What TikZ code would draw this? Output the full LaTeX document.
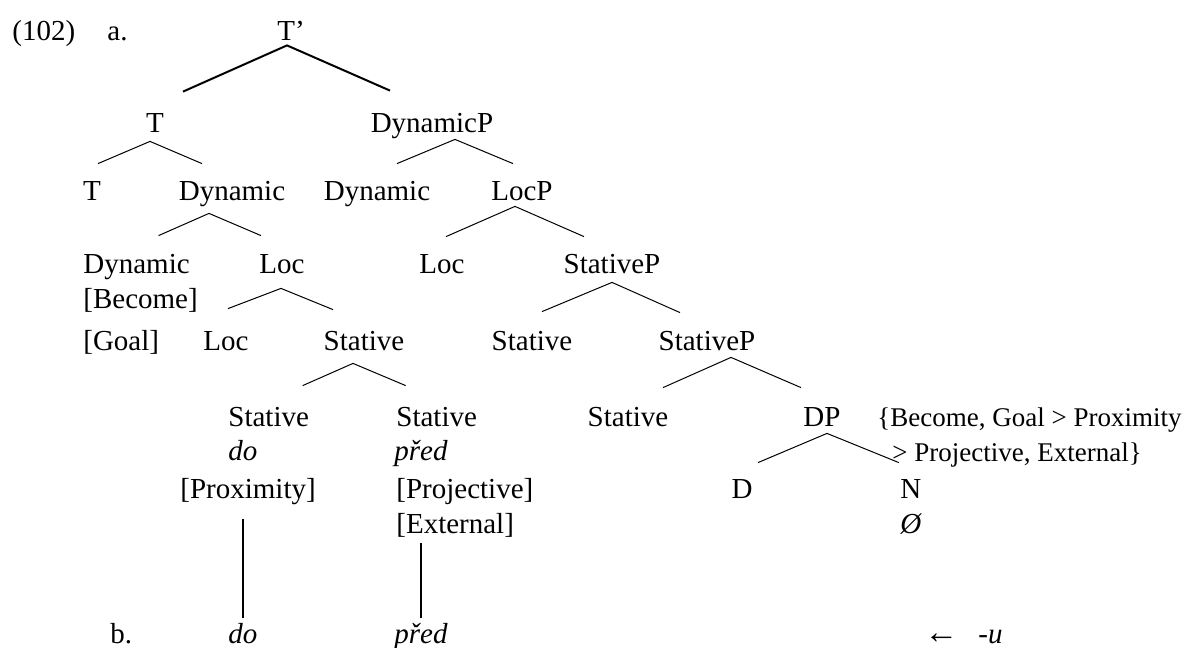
\documentclass[tikz,border=0pt]{standalone}
\usepackage{fontspec}
\setmainfont{Liberation Serif}
\usetikzlibrary{calc}
\begin{document}
\begin{tikzpicture}[x=0.5pt, y=-0.5pt, font=\fontsize{14.5}{17.5}\selectfont,
    lab/.style={inner sep=0pt, text height=10pt, text depth=0pt, anchor=base},
    labl/.style={lab, anchor=base west},
    roof/.style={line width=0.5pt},
    link/.style={line width=0.6pt}]
  \useasboundingbox (0,0) rectangle (1185,648);
  \foreach \n/\x/\y/\t in {Tbar/291/40/T’, T1/155/132/T, DynP/432/132/DynamicP,
      T2/92/200/T, Dyn2/232/200/Dynamic, Dyn3/377/200/Dynamic, LocP/522/200/LocP,
      Loc3/282/273/Loc, Loc4/442/273/Loc, StP3/612/273/StativeP,
      Loc5/226/350/Loc, St4a/364/350/Stative, St4b/532/350/Stative, StP4/707/350/StativeP,
      St5c/628/426/Stative, DP/822/426/DP, D/742/498/D}
    \node[lab] (\n) at (\x,\y) {\t};
  \foreach \n/\x/\y/\t in {ex/12/40/(102), a/107/40/a.,
      DynB/83/273/Dynamic, become/83/308/{[Become]}, goal/83/350/{[Goal]},
      St5a/228/426/Stative, dot/228/460/\textit{do}, prox/180/498/{[Proximity]},
      St5b/396/426/Stative, predt/394/460/\textit{před}, proj/396/498/{[Projective]},
      ext/396/533/{[External]}, N/900/498/N, null/900/533/\textit{Ø},
      b/110/643/b., dob/228/643/\textit{do}, predb/394/643/\textit{před},
      suf/978/643/\textit{-u}}
    \node[labl] (\n) at (\x,\y) {\t};
  \node[inner sep=0pt, anchor=base west, font=\fontsize{17}{17}\selectfont] (arr) at (924,643) {←};
  \node[labl, font=\fontsize{13.5}{16}\selectfont] (note1) at (877,426) {\{Become, Goal > Proximity};
  \node[labl, font=\fontsize{13.5}{16}\selectfont] (note2) at (892,461) {> Projective, External\}};
  \draw[roof, line width=1pt] ($(T1.north)+(28,-20)$) -- ($(Tbar.south)+(-4,5)$) -- ($(DynP.north)+(-42,-21)$);
  \foreach \p/\ax/\ay/\l/\lx/\ly/\r/\rx/\ry in {T1/-5/9/T2/6/-16/Dyn2/-30/-16,
      DynP/23/7/Dyn3/20/-16/LocP/-9/-16, Dyn2/-23/13/DynB/22/-17/Loc3/-21/-17,
      LocP/-7/6/Loc4/4/-16/StP3/-28/-16, Loc3/-1/15/Loc5/2/-21/St4a/-31/-20,
      StP3/0/9/St4b/10/-18/StP4/-27/-17, St4a/-11/13/St5a/34/-20/St5b/-31/-20,
      StP4/24/7/St5c/35/-18/DP/-21/-18, DP/5/7/D/16/-15/N/-12/-15}
    \draw[roof] ($(\l.north)+(\lx,\ly)$) -- ($(\p.south)+(\ax,\ay)$) -- ($(\r.north)+(\rx,\ry)$);
  \draw[link] ($(prox.south -| dob.north)+(0,21)$) -- ($(dob.north)+(0,-5)$);
  \draw[link] ($(ext.south -| predb.north)+(0,10)$) -- ($(predb.north)+(0,-5)$);
\end{tikzpicture}
\end{document}
